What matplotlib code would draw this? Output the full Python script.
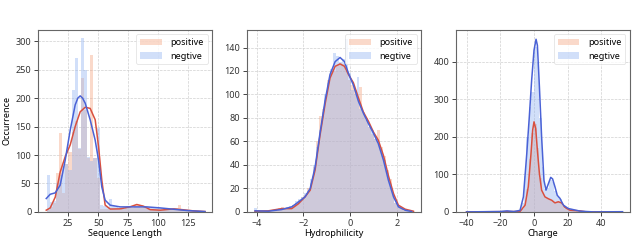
import numpy as np
import matplotlib
matplotlib.use("Agg")
import matplotlib.pyplot as plt

# ---- Sequence length: bins of width 2.6 starting at 7
len_start, len_width = 7.0, 2.6
len_neg = [65, 18, 20, 50, 65, 80, 85, 73, 215, 270, 113, 305, 250, 97, 90, 95, 147, 13, 10, 8,
           22, 10, 8, 7, 7, 8, 6, 7, 8, 8, 7, 8, 8, 7, 8, 6, 6, 5, 5, 5, 4, 4, 4, 3, 3, 3, 2, 2, 2, 1, 1]
len_pos = [4, 8, 15, 68, 139, 33, 85, 105, 140, 160, 110, 235, 180, 95, 275, 95, 60, 5, 5, 5,
           4, 4, 4, 4, 5, 6, 8, 10, 12, 13, 12, 9, 5, 4, 3, 3, 3, 3, 3, 4, 5, 6, 12, 4, 3, 2, 2, 1, 1, 1, 1]
len_kde_x_neg = [6.7, 10, 14.2, 18.3, 22.5, 26.7, 30.8, 33, 35, 37, 39.2, 43.3, 47.5, 50.3, 53, 55.8, 60,
                 68.3, 79.4, 90.5, 101.7, 112.8, 124, 139]
len_kde_neg = [23.5, 31, 33.5, 47, 91, 144, 188, 200, 204, 200, 191, 162, 126, 91, 44, 20.6, 11.8,
               8.8, 8.8, 8.8, 7, 4.7, 2.4, 0.6]
len_kde_x_pos = [6.7, 10, 14.2, 18.3, 22.5, 26.7, 30.8, 35, 39.2, 43.3, 47.5, 50.3, 53, 55.8, 60,
                 68.3, 76.7, 82.2, 87.8, 93.3, 101.7, 112.8, 119.7, 129.4, 139]
len_kde_pos = [3, 7, 26, 70, 97, 118, 150, 176, 184, 182, 162, 115, 56, 12, 5,
               5.3, 9, 13, 10, 4, 3, 5.3, 4, 1.8, 0.6]

# ---- Hydrophilicity: bins of width 0.125 starting at -4.1
hyd_start, hyd_width = -4.1, 0.125
hyd_neg = [3, 1, 0, 1, 0, 1, 1, 1, 2, 2, 3, 4, 5, 6, 9, 11, 13, 16, 18, 28, 40, 55, 70, 85, 100,
           110, 122, 135, 133, 128, 130, 147, 118, 104, 100, 115, 88, 84, 78, 72, 70, 62, 58, 52,
           44, 33, 24, 14, 8, 5, 3, 1, 1, 0, 0]
hyd_pos = [1, 2, 1, 0, 1, 1, 1, 2, 3, 4, 3, 3, 4, 6, 8, 10, 13, 14, 20, 25, 38, 60, 82, 88, 95,
           112, 118, 120, 125, 127, 126, 120, 112, 108, 104, 96, 106, 85, 80, 72, 66, 62, 70, 55,
           48, 36, 28, 16, 8, 5, 3, 2, 1, 1, 1]
hyd_kde_x_neg = [-4.07, -3.5, -2.93, -2.5, -2.21, -1.93, -1.71, -1.5, -1.29, -1.07, -0.86, -0.64, -0.43,
                 -0.24, -0.07, 0.14, 0.36, 0.57, 0.79, 1.0, 1.21, 1.43, 1.64, 1.86, 2.07, 2.36, 2.64]
hyd_kde_neg = [0.9, 0.6, 2, 4.3, 8.5, 12.8, 20, 38, 67, 95, 117, 128, 131.5,
               128, 118, 108, 94, 84, 75, 67, 58, 44, 27, 12.8, 4.3, 1.4, 0.3]
hyd_kde_x_pos = [-4.07, -3.5, -2.93, -2.5, -2.21, -1.93, -1.71, -1.5, -1.29, -1.07, -0.86, -0.64, -0.43,
                 -0.24, -0.07, 0.14, 0.36, 0.57, 0.79, 1.0, 1.21, 1.43, 1.64, 1.86, 2.07, 2.36, 2.71]
hyd_kde_pos = [0.6, 0.9, 2.8, 2.8, 7, 12.8, 18.5, 35.6, 65, 92, 114, 124, 126,
               124, 117, 110, 97, 85, 77, 68, 61, 48, 31, 15.6, 5.7, 2.3, 0.6]

# ---- Charge: bins of width 1.5 starting at -10.5, plus a few far tail bins
chg_start, chg_width = -10.5, 1.5
chg_neg = [1, 3, 25, 95, 200, 280, 320, 440, 400, 250, 120, 60, 65, 85, 80, 55, 40, 35, 15, 12,
           8, 7, 5, 3, 2, 1, 1]
chg_pos = [0, 1, 8, 20, 60, 140, 210, 235, 170, 90, 50, 40, 35, 32, 28, 24, 26, 26, 15, 8,
           5, 3, 3, 2, 1, 1, 0]
chg_tail_x = [-40, -30, -17, 52]
chg_tail_neg = [1, 1, 2, 1]
chg_tail_pos = [0, 1, 1, 0]
chg_kde_x_neg = [-40, -20, -16, -12, -8.3, -6.3, -4.3, -2.8, -1.4, 0, 1.2, 2, 3.2, 4.5, 5.9, 7.1, 8.5,
                 9.9, 11, 12.4, 13.8, 15.4, 17.4, 20.3, 23.3, 27.3, 35, 52.5]
chg_kde_neg = [0, 1, 2.7, 1, 4, 40, 155, 253, 351, 431, 460, 444, 333, 200, 84, 58, 75,
               92, 88, 67, 44, 36, 18, 9, 6, 2, 0, 0.5]
chg_kde_x_pos = [-40, -8.3, -5.3, -3.4, -1.8, -0.8, 0, 1, 2, 3.2, 4.5, 6.5, 8.5, 10.5, 12.4, 14.4,
                 16.4, 18.4, 21.3, 27.3, 31, 52]
chg_kde_pos = [0, 1, 18, 67, 155, 218, 240, 222, 164, 102, 58, 40, 35, 31, 24, 27,
               24, 11.6, 4.4, 2.7, 0, 0]

pos_bar = '#f4a582'
neg_bar = '#92b4f2'
pos_line = '#d9503f'
neg_line = '#4a62d6'

plt.rcParams['font.family'] = ['Noto Sans', 'DejaVu Sans']
plt.rcParams['font.size'] = 6.5

fig = plt.figure(figsize=(6.37, 2.43), dpi=100)
lefts = [0.060, 0.388, 0.716]
axs = [fig.add_axes([l, 0.128, 0.273, 0.749]) for l in lefts]


def draw(ax, start, width, neg, pos, kxn, kn, kxp, kp, tail=None):
    edges_n = start + width * np.arange(len(neg))
    edges_p = start + width * np.arange(len(pos))
    ax.bar(edges_p, pos, width=width, align='edge', color=pos_bar, alpha=0.42,
           linewidth=0, label='positive')
    ax.bar(edges_n, neg, width=width, align='edge', color=neg_bar, alpha=0.42,
           linewidth=0, label='negtive')
    if tail is not None:
        tx, tn, tp = tail
        ax.bar(tx, tp, width=width, color=pos_bar, alpha=0.42, linewidth=0)
        ax.bar(tx, tn, width=width, color=neg_bar, alpha=0.42, linewidth=0)
    ax.plot(kxp, kp, color=pos_line, lw=1.1)
    ax.plot(kxn, kn, color=neg_line, lw=1.1)
    ax.grid(True, ls='--', lw=0.5, color='#d0d0d0')
    ax.set_axisbelow(True)
    for s in ax.spines.values():
        s.set_color('#666666')
        s.set_linewidth(0.8)
    ax.tick_params(length=3, width=0.7, color='#444444', pad=2, labelcolor='#333333')
    leg = ax.legend(loc='upper right', fontsize=6.5, frameon=True, handlelength=2.4,
                    borderpad=0.4, labelspacing=0.5, handletextpad=1.0)
    leg.get_frame().set_edgecolor('#dddddd')
    leg.get_frame().set_linewidth(0.6)


draw(axs[0], len_start, len_width, len_neg, len_pos,
     len_kde_x_neg, len_kde_neg, len_kde_x_pos, len_kde_pos)
axs[0].set_xlim(0, 145)
axs[0].set_ylim(0, 320)
axs[0].set_xticks([25, 50, 75, 100, 125])
axs[0].set_xlabel('Sequence Length', labelpad=1)
axs[0].set_ylabel('Occurrence', labelpad=3)

draw(axs[1], hyd_start, hyd_width, hyd_neg, hyd_pos,
     hyd_kde_x_neg, hyd_kde_neg, hyd_kde_x_pos, hyd_kde_pos)
axs[1].set_xlim(-4.41, 3.04)
axs[1].set_ylim(0, 155)
axs[1].set_xticks([-4, -2, 0, 2])
axs[1].set_xlabel('Hydrophilicity', labelpad=1)

draw(axs[2], chg_start, chg_width, chg_neg, chg_pos,
     chg_kde_x_neg, chg_kde_neg, chg_kde_x_pos, chg_kde_pos,
     tail=(chg_tail_x, chg_tail_neg, chg_tail_pos))
axs[2].set_xlim(-46.2, 56.9)
axs[2].set_ylim(0, 485)
axs[2].set_xticks([-40, -20, 0, 20, 40])
axs[2].set_yticks([0, 100, 200, 300, 400])
axs[2].set_xlabel('Charge', labelpad=1)

fig.savefig('out.png', dpi=100)
